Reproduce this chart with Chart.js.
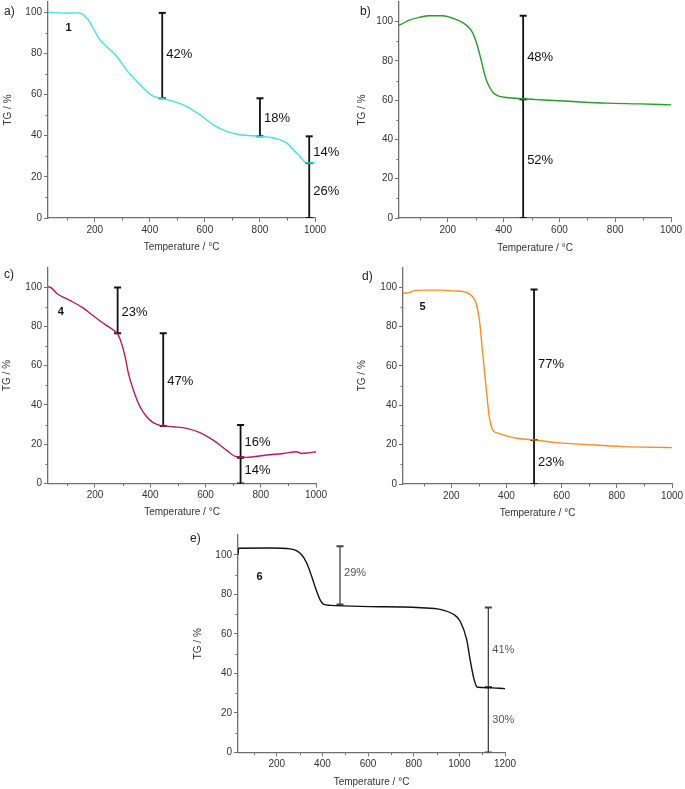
<!DOCTYPE html>
<html>
<head>
<meta charset="utf-8">
<script src="https://cdn.jsdelivr.net/npm/chart.js@4"></script>
<style>
  body { margin: 0; background: #fff; width: 685px; height: 789px; position: relative; overflow: hidden;
         font-family: "Liberation Sans", Arial, sans-serif; }
  canvas { position: absolute; }
  .tag { position: absolute; font-size: 12px; color: #222; line-height: 12px; }
</style>
</head>
<body>
<canvas id="ca"></canvas>
<canvas id="cb"></canvas>
<canvas id="cc"></canvas>
<canvas id="cd"></canvas>
<canvas id="ce"></canvas>
<div class="tag" style="left:4px;top:5px">a)</div>
<div class="tag" style="left:360px;top:5px">b)</div>
<div class="tag" style="left:4px;top:268px">c)</div>
<div class="tag" style="left:362px;top:270px">d)</div>
<div class="tag" style="left:190px;top:532px">e)</div>
<script>
'use strict';

// ── Data ──────────────────────────────────────────────────────────────────────

const xTicks1000 = [200, 400, 600, 800, 1000];
const xTicks1200 = [200, 400, 600, 800, 1000, 1200];
const yTicks = [0, 20, 40, 60, 80, 100];

// a) compound 1
const tempA = [30, 85, 133, 152, 176, 200, 218, 242, 279, 315, 352, 388, 412, 442, 485, 533, 582, 630, 679, 727, 800, 848, 897, 921, 945, 964, 979, 1000];
const tgA   = [100, 99.6, 99.7, 99.3, 96.4, 90.8, 86.7, 83.5, 78.6, 72.0, 66.5, 61.6, 59.2, 58.2, 56.7, 54.3, 50.2, 45.4, 42.1, 40.5, 39.7, 38.9, 36.5, 33.2, 30.0, 27.2, 26.7, 26.9];
const stepXA    = [445, 800, 979, 979];
const stepLoA   = [58.2, 39.7, 26.7, 0];
const stepHiA   = [99.7, 58.2, 39.7, 26.7];
const stepTextA = ['42%', '18%', '14%', '26%'];
const stepTextYA = [79.4, 48.4, 32.0, 12.8];

// b)
const tempB = [25, 32, 62, 98, 134, 182, 218, 254, 278, 290, 302, 314, 326, 338, 350, 362, 380, 410, 470, 529, 649, 769, 889, 1000];
const tgB   = [98.3, 98.6, 100.8, 102.2, 103, 103, 101.7, 99.5, 96.6, 94.0, 89.5, 83.5, 76.5, 70.3, 66.6, 63.9, 62.2, 61.4, 60.7, 60.2, 59.3, 58.5, 58.1, 57.6];
const stepXB    = [470, 470];
const stepLoB   = [60.5, 0];
const stepHiB   = [103, 60.5];
const stepTextB = ['48%', '52%'];
const stepTextYB = [81.9, 29.2];

// c) compound 4
const tempC = [30, 43, 61, 85, 122, 158, 194, 230, 266, 284, 296, 309, 321, 339, 363, 387, 411, 435, 483, 532, 580, 628, 676, 712, 749, 821, 882, 930, 948, 972, 1000];
const tgC   = [100.3, 99.5, 96.9, 94.9, 92.3, 89.3, 85.4, 81.6, 78.2, 75.7, 71.4, 64.6, 56.1, 47.6, 39.1, 34.0, 31.0, 29.6, 28.9, 28.1, 25.9, 22.1, 17.0, 13.6, 13.3, 14.5, 15.3, 16.2, 15.3, 15.6, 16.2];
const stepXC    = [282, 447, 727, 727];
const stepLoC   = [76.5, 29.3, 13.3, 0];
const stepHiC   = [99.8, 76.5, 29.8, 13.3];
const stepTextC = ['23%', '47%', '16%', '14%'];
const stepTextYC = [87.2, 51.9, 20.7, 6.8];

// d) compound 5
const tempD = [25, 45, 63, 100, 160, 208, 248, 272, 290, 302, 314, 326, 338, 350, 369, 402, 450, 500, 583, 704, 825, 946, 1000];
const tgD   = [97.0, 97.1, 98.1, 98.5, 98.5, 98.1, 97.6, 95.9, 91.7, 83.2, 66.2, 49.2, 33.9, 27.5, 25.8, 24.3, 23.0, 22.4, 21.0, 19.9, 19.0, 18.6, 18.5];
const stepXD    = [500, 500];
const stepLoD   = [22.4, 0];
const stepHiD   = [98.8, 22.4];
const stepTextD = ['77%', '23%'];
const stepTextYD = [61, 11];

// e) compound 6
const tempE = [30, 33, 171, 258, 288, 309, 331, 353, 375, 390, 404, 433, 609, 755, 831, 915, 974, 1003, 1032, 1047, 1061, 1069, 1076, 1083, 1127, 1200];
const tgE   = [100, 103.3, 103.4, 103.0, 102.0, 100.0, 95.8, 89.0, 81.4, 77.2, 75.0, 74.4, 73.8, 73.6, 73.2, 72.4, 69.9, 66.5, 57.2, 47.0, 38.6, 35.2, 33.3, 33.0, 32.8, 32.3];
const stepXE    = [477, 1127, 1127];
const stepLoE   = [74.8, 33, 0];
const stepHiE   = [104.3, 73.3, 33];
const stepTextE = ['29%', '41%', '30%'];
const stepTextYE = [91, 52, 16.2];

// ── Plugins ───────────────────────────────────────────────────────────────────

const FONT = "'Liberation Sans', Arial, sans-serif";

// small unlabelled ticks half way between the labelled ones
const minorTicks = {
  id: 'minorTicks',
  afterDraw(chart, args, opts) {
    const { ctx, scales: { x, y }, chartArea: a } = chart;
    ctx.save();
    ctx.strokeStyle = opts.color;
    ctx.lineWidth = 1;
    ctx.beginPath();
    for (let v = 100; v < x.max; v += 200) {
      if (v <= x.min) continue;
      const px = Math.round(x.getPixelForValue(v)) + 0.5;
      ctx.moveTo(px, a.bottom); ctx.lineTo(px, a.bottom + 2.5);
    }
    for (let v = 10; v < y.max; v += 20) {
      const py = Math.round(y.getPixelForValue(v)) + 0.5;
      ctx.moveTo(a.left - 2.5, py); ctx.lineTo(a.left, py);
    }
    ctx.stroke();
    ctx.restore();
  }
};

// step labels and sample numbers, placed in data coordinates
const notes = {
  id: 'notes',
  afterDatasetsDraw(chart, args, opts) {
    const { ctx, scales: { x, y } } = chart;
    ctx.save();
    ctx.textBaseline = 'middle';
    opts.items.forEach(it => {
      ctx.font = it.font;
      ctx.fillStyle = it.color;
      ctx.textAlign = it.align || 'left';
      ctx.fillText(it.text, x.getPixelForValue(it.x) + (it.dx || 0), y.getPixelForValue(it.y));
    });
    ctx.restore();
  }
};

// scales should not push the plot area around with label overhang
const noOverhang = s => { s.paddingTop = s.paddingBottom = s.paddingLeft = s.paddingRight = 0; };

// ── Panel builder ─────────────────────────────────────────────────────────────

function makePanel(id, p) {
  const cv = document.getElementById(id);
  const [cx, cy, cw, ch] = p.box;
  const [l, t, r, b] = p.area;
  cv.width = cw; cv.height = ch;
  cv.style.left = cx + 'px'; cv.style.top = cy + 'px';
  cv.style.width = cw + 'px'; cv.style.height = ch + 'px';

  const datasets = [{
    data: p.temp.map((v, i) => ({ x: v, y: p.tg[i] })),
    borderColor: p.color,
    borderWidth: 1.4,
    pointRadius: 0,
    cubicInterpolationMode: 'monotone',
    fill: false,
  }];
  p.stepX.forEach((sx, i) => datasets.push({
    data: [{ x: sx, y: p.stepLo[i] }, { x: sx, y: p.stepHi[i] }],
    borderColor: p.stepColor,
    borderWidth: p.stepWidth,
    pointStyle: 'line',
    pointRadius: 3.5,
    pointHoverRadius: 3.5,
    pointBorderColor: p.stepColor,
    pointBorderWidth: 2,
    fill: false,
  }));

  const items = p.stepText.map((s, i) => ({
    text: s, x: p.stepX[i], y: p.stepTextY[i], dx: 4,
    font: `${p.noteSize}px ${FONT}`, color: p.noteColor,
  }));
  if (p.sample) {
    items.push({ text: p.sample[0], x: p.sample[1], y: p.sample[2], align: 'center',
                 font: `bold 11px ${FONT}`, color: '#111' });
  }

  const axisColor = '#6f6f6f';
  const tickFont = { family: FONT, size: 10 };

  return new Chart(cv, {
    type: 'line',
    data: { datasets },
    plugins: [minorTicks, notes],
    options: {
      responsive: false,
      animation: false,
      events: [],
      layout: { autoPadding: false, padding: { left: 0, top: t - cy, right: cx + cw - r, bottom: 0 } },
      plugins: {
        legend: { display: false },
        tooltip: { enabled: false },
        minorTicks: { color: axisColor },
        notes: { items },
      },
      scales: {
        x: {
          type: 'linear', position: 'bottom',
          min: p.xMin, max: p.xMax,
          afterBuildTicks: s => { s.ticks = p.xTicks.map(v => ({ value: v })); },
          afterFit: s => { s.height = cy + ch - b; noOverhang(s); },
          grid: { drawOnChartArea: false, drawTicks: true, tickLength: 4, color: axisColor },
          border: { display: true, color: axisColor, width: 1.3 },
          ticks: { font: tickFont, color: '#333', padding: 2, maxRotation: 0, callback: v => String(v) },
          title: { display: true, text: 'Temperature / °C', color: '#333', font: tickFont,
                   padding: { top: 0, bottom: cy + ch - p.xTitleY - 6 } },
        },
        y: {
          type: 'linear', position: 'left',
          min: 0, max: p.yMax,
          afterBuildTicks: s => { s.ticks = yTicks.map(v => ({ value: v })); },
          afterFit: s => { s.width = l - cx; noOverhang(s); },
          grid: { drawOnChartArea: false, drawTicks: true, tickLength: 4, color: axisColor },
          border: { display: true, color: axisColor, width: 1.3 },
          ticks: { font: tickFont, color: '#333', padding: 2, callback: v => String(v) },
          title: { display: true, text: 'TG / %', color: '#333', font: tickFont,
                   padding: { top: p.yTitleX - cx - 6, bottom: 0 } },
        },
      },
    },
  });
}

// ── Panels ────────────────────────────────────────────────────────────────────

makePanel('ca', {
  box: [0, 0, 340, 260], area: [48, 2, 315, 218], yTitleX: 8, xTitleY: 247,
  xMin: 30, xMax: 1000, yMax: 105, xTicks: xTicks1000,
  temp: tempA, tg: tgA, color: '#3ee3e3',
  stepX: stepXA, stepLo: stepLoA, stepHi: stepHiA, stepText: stepTextA, stepTextY: stepTextYA,
  stepColor: '#111', stepWidth: 1.8, noteSize: 13, noteColor: '#111',
  sample: ['1', 105, 92.4],
});

makePanel('cb', {
  box: [340, 0, 345, 260], area: [399, 2, 671, 218], yTitleX: 362, xTitleY: 248,
  xMin: 25, xMax: 1000, yMax: 110, xTicks: xTicks1000,
  temp: tempB, tg: tgB, color: '#23a023',
  stepX: stepXB, stepLo: stepLoB, stepHi: stepHiB, stepText: stepTextB, stepTextY: stepTextYB,
  stepColor: '#111', stepWidth: 1.8, noteSize: 13, noteColor: '#111',
});

makePanel('cc', {
  box: [0, 260, 340, 265], area: [48, 267.5, 316, 483.5], yTitleX: 7.5, xTitleY: 512,
  xMin: 30, xMax: 1000, yMax: 110, xTicks: xTicks1000,
  temp: tempC, tg: tgC, color: '#c0185e',
  stepX: stepXC, stepLo: stepLoC, stepHi: stepHiC, stepText: stepTextC, stepTextY: stepTextYC,
  stepColor: '#111', stepWidth: 1.8, noteSize: 13, noteColor: '#111',
  sample: ['4', 76, 87.2],
});

makePanel('cd', {
  box: [340, 260, 345, 265], area: [403, 267.5, 672, 484], yTitleX: 362.5, xTitleY: 513,
  xMin: 25, xMax: 1000, yMax: 110, xTicks: xTicks1000,
  temp: tempD, tg: tgD, color: '#ff8c1c',
  stepX: stepXD, stepLo: stepLoD, stepHi: stepHiD, stepText: stepTextD, stepTextY: stepTextYD,
  stepColor: '#111', stepWidth: 1.8, noteSize: 13, noteColor: '#111',
  sample: ['5', 96, 90.2],
});

makePanel('ce', {
  box: [170, 525, 360, 264], area: [238, 535, 505, 752.5], yTitleX: 198.5, xTitleY: 782,
  xMin: 30, xMax: 1200, yMax: 110, xTicks: xTicks1200,
  temp: tempE, tg: tgE, color: '#111',
  stepX: stepXE, stepLo: stepLoE, stepHi: stepHiE, stepText: stepTextE, stepTextY: stepTextYE,
  stepColor: '#444', stepWidth: 1.3, noteSize: 11, noteColor: '#555',
  sample: ['6', 124, 89],
});
</script>
</body>
</html>
